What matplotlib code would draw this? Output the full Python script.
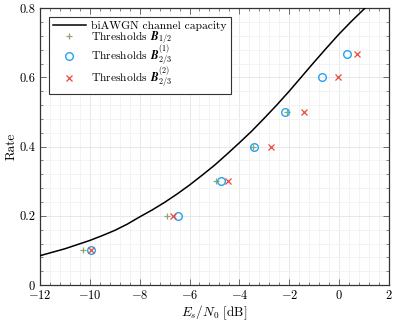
import matplotlib
matplotlib.use("Agg")
import matplotlib.pyplot as plt
from matplotlib.ticker import MultipleLocator

plt.rcParams['font.family'] = ['cmr10', 'DejaVu Serif']
plt.rcParams['mathtext.fontset'] = 'cm'
plt.rcParams['axes.formatter.use_mathtext'] = True
plt.rcParams['axes.unicode_minus'] = True

# Capacity curve
cap_x = [-12.0, -11.5, -11.0, -10.5, -10.0, -9.5, -9.0, -8.5, -8.0, -7.5, -7.0, -6.5, -6.0,
         -5.5, -5.0, -4.5, -4.0, -3.5, -3.0, -2.5, -2.0, -1.5, -1.0, -0.5, 0.0, 0.5, 1.0, 1.5, 2.0]
cap_y = [0.085, 0.095, 0.105, 0.117, 0.129, 0.143, 0.158, 0.176, 0.197, 0.217, 0.239, 0.263, 0.289,
         0.317, 0.346, 0.378, 0.411, 0.445, 0.482, 0.520, 0.560, 0.602, 0.644, 0.685, 0.725, 0.762,
         0.797, 0.830, 0.860]

# Thresholds
b12_x = [-10.26, -6.92, -4.94, -3.45, -2.09]
b12_y = [0.1, 0.2, 0.3, 0.4, 0.5]
b23a_x = [-9.97, -6.48, -4.74, -3.42, -2.15, -0.70, 0.30]
b23a_y = [0.1, 0.2, 0.3, 0.4, 0.5, 0.6, 0.6667]
b23b_x = [-9.95, -6.68, -4.45, -2.73, -1.40, -0.03, 0.73]
b23b_y = [0.1, 0.2, 0.3, 0.4, 0.5, 0.6, 0.6667]

fig = plt.figure(figsize=(3.96, 3.24), dpi=100)
ax = fig.add_axes([0.101, 0.120, 0.881, 0.855])

ax.plot(cap_x, cap_y, color='black', lw=1.1, label='biAWGN channel capacity', zorder=3)
ax.plot(b12_x, b12_y, ls='none', marker='+', ms=5, mew=0.9, color='#8fa870',
        label=r'Thresholds $\mathbfit{B}_{1/2}$', zorder=4)
ax.plot(b23a_x, b23a_y, ls='none', marker='o', ms=5.5, mew=1.0, mfc='none', color='#22a4f0',
        label=r'Thresholds $\mathbfit{B}_{2/3}^{(1)}$', zorder=4)
ax.plot(b23b_x, b23b_y, ls='none', marker='x', ms=4.2, mew=0.9, color='#e8483a',
        label=r'Thresholds $\mathbfit{B}_{2/3}^{(2)}$', zorder=4)

ax.set_xlim(-12, 2)
ax.set_ylim(0, 0.8)
ax.xaxis.set_major_locator(MultipleLocator(2))
ax.xaxis.set_minor_locator(MultipleLocator(0.4))
ax.yaxis.set_major_locator(MultipleLocator(0.2))
ax.yaxis.set_minor_locator(MultipleLocator(0.04))
ax.set_yticks([0, 0.2, 0.4, 0.6, 0.8])
ax.set_yticklabels(['0', '0.2', '0.4', '0.6', '0.8'])

ax.grid(which='major', color='#e4e4e4', lw=0.6, zorder=0)
ax.grid(which='minor', color='#f1f1f1', lw=0.6, zorder=0)
ax.set_axisbelow(True)

ax.tick_params(which='both', direction='in', top=True, right=True, labelsize=9, color='#555555')
ax.tick_params(which='major', length=4.5, width=0.6)
ax.tick_params(which='minor', length=2.5, width=0.5)
ax.tick_params(axis='x', pad=2.5)
for s in ax.spines.values():
    s.set_linewidth(0.9)
    s.set_color('#333333')

ax.set_xlabel(r'$E_s/N_0$ [dB]', fontsize=9.5, labelpad=1)
ax.set_ylabel('Rate', fontsize=9.5, labelpad=1)

leg = ax.legend(loc='upper left', fontsize=8.3, frameon=True, fancybox=False,
                edgecolor='#333333', framealpha=1, borderpad=0.35, labelspacing=-0.2,
                handlelength=2.8, handletextpad=0.5, borderaxespad=0.8)
leg.get_frame().set_linewidth(0.8)

fig.savefig('out.png', dpi=100)
